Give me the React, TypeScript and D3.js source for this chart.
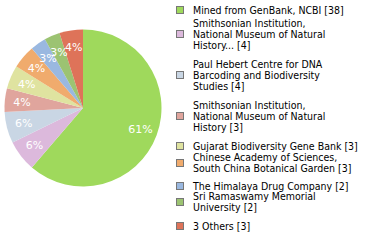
import React from "react";
import * as d3 from "d3";

const labels = [
  "Mined from GenBank, NCBI [38]",
  "Smithsonian Institution,|National Museum of Natural|History... [4]",
  "Paul Hebert Centre for DNA|Barcoding and Biodiversity|Studies [4]",
  "Smithsonian Institution,|National Museum of Natural|History [3]",
  "Gujarat Biodiversity Gene Bank [3]",
  "Chinese Academy of Sciences,|South China Botanical Garden [3]",
  "The Himalaya Drug Company [2]",
  "Sri Ramaswamy Memorial|University [2]",
  "3 Others [3]",
];
const values = [38, 4, 4, 3, 3, 3, 2, 2, 3];
const pctLabels = ["61%", "6%", "6%", "4%", "4%", "4%", "3%", "3%", "4%"];
const colors = [
  "#9fd95c", "#dcb9dc", "#c9d6e4", "#e0a59d", "#dfe3a0",
  "#f0ab6d", "#9ab8e0", "#9cc372", "#de7359",
];
// legend layout: vertical center of each legend entry
const legendCenters = [10, 34, 75, 116, 146, 163, 186, 202, 226];

const W = 380, H = 240;
const cx = 83, cy = 108, R = 78.5;
const lineH = 11;

export default function App() {
  const pie = d3.pie<number>().sort(null).value((d) => d)(values);
  const arc = d3.arc<d3.PieArcDatum<number>>().innerRadius(0).outerRadius(R);
  const labelArc = d3.arc<d3.PieArcDatum<number>>().innerRadius(R * 0.78).outerRadius(R * 0.78);
  return (
    <svg width={W} height={H} style={{ position: "absolute", left: 0, top: 0, background: "#fff" }}>
      <g transform={`translate(${cx},${cy})`}>
        {pie.map((p, i) => (
          <path key={i} d={arc(p) || ""} fill={colors[i]} />
        ))}
        {pie.map((p, i) => {
          const [x, y] = labelArc.centroid(p);
          return (
            <text key={i} x={x} y={y} dy="0.35em" textAnchor="middle" fill="#fff"
              fontFamily="DejaVu Sans" fontSize={11}>
              {pctLabels[i]}
            </text>
          );
        })}
      </g>
      <g>
        {labels.map((l, i) => {
          const lines = l.split("|");
          const c = legendCenters[i];
          const first = c - ((lines.length - 1) * lineH) / 2;
          return (
            <g key={i}>
              <rect x={176.5} y={c - 3.5} width={7} height={7} fill={colors[i]} stroke="#777" strokeWidth={1} />
              {lines.map((t, j) => (
                <text key={j} x={193} y={first + j * lineH} dy="0.35em" fontFamily="DejaVu Sans Condensed" fontSize={10.5} fill="#000">
                  {t}
                </text>
              ))}
            </g>
          );
        })}
      </g>
    </svg>
  );
}
